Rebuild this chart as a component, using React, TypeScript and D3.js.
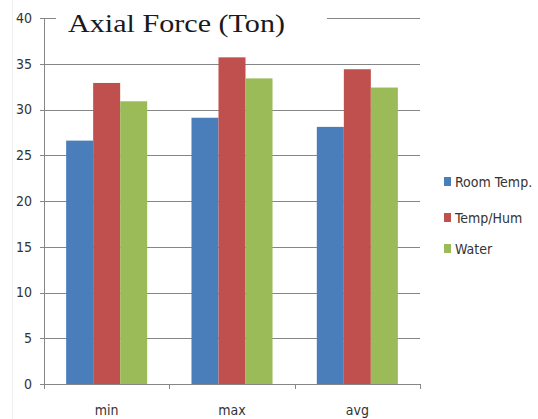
import React from "react";
import * as d3 from "d3";

const categories = ["min", "max", "avg"];
const seriesNames = ["Room Temp.", "Temp/Hum", "Water"];
const roomTemp = [26.6, 29.1, 28.1];
const tempHum = [32.9, 35.7, 34.4];
const water = [30.9, 33.4, 32.4];
const yTicks = [0, 5, 10, 15, 20, 25, 30, 35, 40];
const title = "Axial Force (Ton)";

const colors = ["#4a7ebb", "#c0504d", "#9bbb59"];
const seriesValues = [roomTemp, tempHum, water];

const W = 538;
const H = 419;
const plotLeft = 44;
const plotRight = 420;
const plotTop = 18;
const plotBottom = 384;

export default function App() {
  const x = d3.scaleBand<string>().domain(categories).range([plotLeft, plotRight]).padding(0);
  const inner = d3
    .scaleBand<string>()
    .domain(seriesNames)
    .range([0, x.bandwidth()])
    .paddingInner(0)
    .paddingOuter(0.82);
  const y = d3.scaleLinear().domain([0, 40]).range([plotBottom, plotTop]);

  const boundaries = [...categories.map((c) => x(c) as number), plotRight];
  const labelFont = "'DejaVu Sans Condensed', 'Liberation Sans Narrow', 'Liberation Sans', Arial, sans-serif";

  return (
    <svg
      width={W}
      height={H}
      style={{ position: "absolute", left: 0, top: 0, background: "#fff" }}
    >
      <rect x={0} y={0} width={W} height={H} fill="#fff" />
      <line x1={12.5} x2={12.5} y1={0} y2={H} stroke="#eeeeee" strokeWidth={1} />
      {/* gridlines */}
      {yTicks.filter((t) => t > 0).map((t) => (
        <line
          key={"g" + t}
          x1={plotLeft}
          x2={plotRight}
          y1={Math.round(y(t)) + 0.5}
          y2={Math.round(y(t)) + 0.5}
          stroke="#868686"
          strokeWidth={1}
        />
      ))}
      {/* bars */}
      {seriesValues.map((vals, si) =>
        categories.map((c, ci) => (
          <rect
            key={si + "-" + ci}
            x={(x(c) as number) + (inner(seriesNames[si]) as number)}
            y={y(vals[ci])}
            width={inner.bandwidth()}
            height={plotBottom - y(vals[ci])}
            fill={colors[si]}
          />
        ))
      )}
      {/* y axis */}
      <line x1={plotLeft + 0.5} x2={plotLeft + 0.5} y1={plotTop} y2={plotBottom} stroke="#868686" />
      {yTicks.map((t) => (
        <g key={"t" + t}>
          <line
            x1={plotLeft - 4}
            x2={plotLeft}
            y1={Math.round(y(t)) + 0.5}
            y2={Math.round(y(t)) + 0.5}
            stroke="#868686"
          />
          <text
            x={32}
            y={y(t)}
            dy="0.35em"
            textAnchor="end"
            fontFamily={labelFont}
            fontSize={14}
            fill="#333"
          >
            {t}
          </text>
        </g>
      ))}
      {/* x axis */}
      <line x1={plotLeft} x2={plotRight} y1={plotBottom + 0.5} y2={plotBottom + 0.5} stroke="#868686" />
      {boundaries.map((b, i) => (
        <line
          key={"xb" + i}
          x1={Math.round(b) + 0.5}
          x2={Math.round(b) + 0.5}
          y1={plotBottom}
          y2={plotBottom + 5}
          stroke="#868686"
        />
      ))}
      {categories.map((c) => (
        <text
          key={"c" + c}
          x={(x(c) as number) + x.bandwidth() / 2}
          y={410}
          dy="0.35em"
          textAnchor="middle"
          fontFamily={labelFont}
          fontSize={14}
          fill="#333"
        >
          {c}
        </text>
      ))}
      {/* title */}
      <rect x={56} y={4} width={271} height={36} fill="#fff" />
      <text
        x={68}
        y={32}
        fontFamily="'Liberation Serif', 'DejaVu Serif', serif"
        fontSize={26}
        textLength={217}
        lengthAdjust="spacingAndGlyphs"
        fill="#1a1a1a"
      >
        {title}
      </text>
      {/* legend */}
      {seriesNames.map((s, i) => {
        const ly = [182, 218, 249][i];
        return (
          <g key={"l" + s}>
            <rect x={444} y={ly - 5} width={7} height={9} fill={colors[i]} />
            <text x={455} y={ly} dy="0.35em" fontFamily={labelFont} fontSize={14} fill="#333">
              {s}
            </text>
          </g>
        );
      })}
    </svg>
  );
}
